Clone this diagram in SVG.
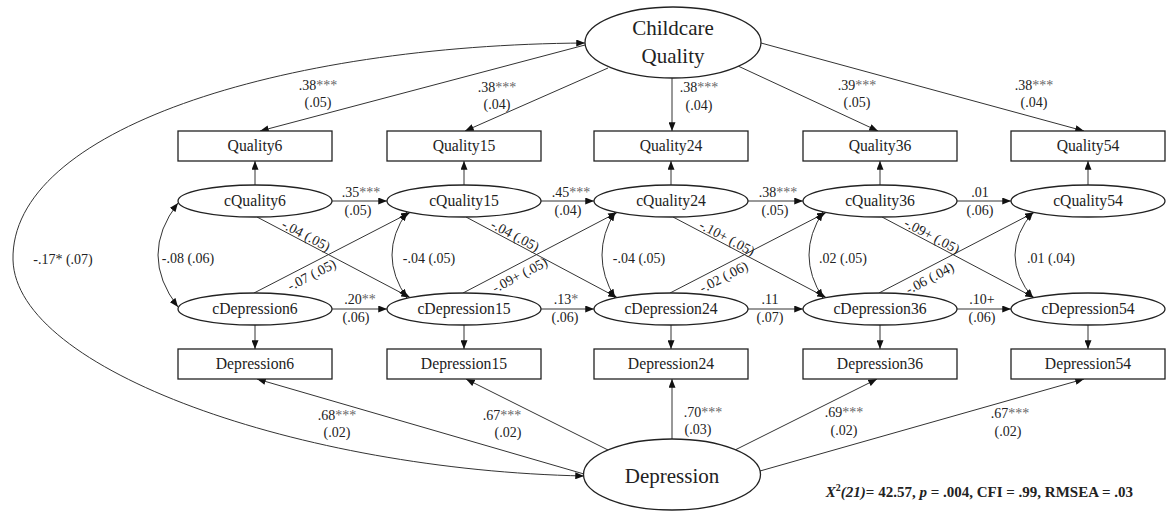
<svg xmlns="http://www.w3.org/2000/svg" width="1167" height="513" viewBox="0 0 1167 513">
<style>
text{font-family:"Liberation Serif",Tinos,"Times New Roman",Times,"DejaVu Serif",serif;fill:#222}
.node{font-size:15.7px;text-anchor:middle}
.big{font-size:21px;text-anchor:middle}
.lab{font-size:14px;text-anchor:middle}
.st{fill:#666}
.box{fill:#fff;stroke:#222;stroke-width:1.3}
.ell{fill:#fff;stroke:#222;stroke-width:1.3}
.c line,.c path{stroke:#333;stroke-width:1;fill:none}
.fit{font-size:15px;font-weight:bold;text-anchor:end}
</style>
<defs>
<marker id="ah" viewBox="0 0 10 8" markerWidth="9" markerHeight="7" refX="10" refY="4" orient="auto-start-reverse" markerUnits="userSpaceOnUse">
<path d="M0,0 L10,4 L0,8 z" fill="#111"/>
</marker>
</defs>

<g id="connectors" class="c">
<path d="M585,43 C280,45 10,130 13,260 C16,370 300,470 584,476" marker-start="url(#ah)" marker-end="url(#ah)"/>
<line x1="585" y1="45" x2="260" y2="131" marker-end="url(#ah)"/>
<line x1="608" y1="68" x2="465" y2="131" marker-end="url(#ah)"/>
<line x1="672" y1="78" x2="672" y2="131" marker-end="url(#ah)"/>
<line x1="738" y1="66" x2="878" y2="131" marker-end="url(#ah)"/>
<line x1="761" y1="43" x2="1084" y2="131" marker-end="url(#ah)"/>
<line x1="584" y1="474" x2="257" y2="379" marker-end="url(#ah)"/>
<line x1="608" y1="450" x2="466" y2="379" marker-end="url(#ah)"/>
<line x1="672" y1="439" x2="672" y2="379" marker-end="url(#ah)"/>
<line x1="735" y1="450" x2="877" y2="379" marker-end="url(#ah)"/>
<line x1="760" y1="471" x2="1084" y2="379" marker-end="url(#ah)"/>
<line x1="255" y1="185" x2="255" y2="161" marker-end="url(#ah)"/>
<line x1="464" y1="185" x2="464" y2="161" marker-end="url(#ah)"/>
<line x1="671" y1="185" x2="671" y2="161" marker-end="url(#ah)"/>
<line x1="880" y1="185" x2="880" y2="161" marker-end="url(#ah)"/>
<line x1="1088" y1="185" x2="1088" y2="161" marker-end="url(#ah)"/>
<line x1="255" y1="325" x2="255" y2="349" marker-end="url(#ah)"/>
<line x1="464" y1="325" x2="464" y2="349" marker-end="url(#ah)"/>
<line x1="671" y1="325" x2="671" y2="349" marker-end="url(#ah)"/>
<line x1="880" y1="325" x2="880" y2="349" marker-end="url(#ah)"/>
<line x1="1088" y1="325" x2="1088" y2="349" marker-end="url(#ah)"/>
<line x1="332" y1="201" x2="387" y2="201" marker-end="url(#ah)"/>
<line x1="541" y1="201" x2="594" y2="201" marker-end="url(#ah)"/>
<line x1="748" y1="201" x2="803" y2="201" marker-end="url(#ah)"/>
<line x1="957" y1="201" x2="1011" y2="201" marker-end="url(#ah)"/>
<line x1="332" y1="309" x2="387" y2="309" marker-end="url(#ah)"/>
<line x1="541" y1="309" x2="594" y2="309" marker-end="url(#ah)"/>
<line x1="748" y1="309" x2="803" y2="309" marker-end="url(#ah)"/>
<line x1="957" y1="309" x2="1011" y2="309" marker-end="url(#ah)"/>
<line x1="257" y1="217" x2="410" y2="297.5" marker-end="url(#ah)"/>
<line x1="466" y1="217" x2="617" y2="297.5" marker-end="url(#ah)"/>
<line x1="673" y1="217" x2="826" y2="297.5" marker-end="url(#ah)"/>
<line x1="882" y1="217" x2="1034" y2="297.5" marker-end="url(#ah)"/>
<line x1="254" y1="293" x2="410" y2="212.5" marker-end="url(#ah)"/>
<line x1="463" y1="293" x2="617" y2="212.5" marker-end="url(#ah)"/>
<line x1="670" y1="293" x2="826" y2="212.5" marker-end="url(#ah)"/>
<line x1="879" y1="293" x2="1034" y2="212.5" marker-end="url(#ah)"/>
<path d="M178,203 Q138,255 178,307" marker-start="url(#ah)" marker-end="url(#ah)"/>
<path d="M407,212 Q377,255 407,298" marker-start="url(#ah)" marker-end="url(#ah)"/>
<path d="M615,212 Q589,255 615,298" marker-start="url(#ah)" marker-end="url(#ah)"/>
<path d="M823,212 Q795,255 823,298" marker-start="url(#ah)" marker-end="url(#ah)"/>
<path d="M1033,212 Q997,255 1033,298" marker-start="url(#ah)" marker-end="url(#ah)"/>
</g>

<g id="labels">
<text class="lab" x="63" y="264">-.17* (.07)</text>
<text class="lab" x="318" y="90">.38<tspan class="st">***</tspan></text><text class="lab" x="318" y="107">(.05)</text>
<text class="lab" x="497" y="92">.38<tspan class="st">***</tspan></text><text class="lab" x="497" y="109">(.04)</text>
<text class="lab" x="699" y="92">.38<tspan class="st">***</tspan></text><text class="lab" x="699" y="110">(.04)</text>
<text class="lab" x="857" y="90">.39<tspan class="st">***</tspan></text><text class="lab" x="857" y="107">(.05)</text>
<text class="lab" x="1034" y="90">.38<tspan class="st">***</tspan></text><text class="lab" x="1034" y="107">(.04)</text>

<text class="lab" x="361" y="197">.35<tspan class="st">***</tspan></text><text class="lab" x="358" y="215">(.05)</text>
<text class="lab" x="571" y="197">.45<tspan class="st">***</tspan></text><text class="lab" x="568" y="215">(.04)</text>
<text class="lab" x="778" y="197">.38<tspan class="st">***</tspan></text><text class="lab" x="775" y="215">(.05)</text>
<text class="lab" x="980" y="197">.01</text><text class="lab" x="980" y="215">(.06)</text>

<text class="lab" x="360" y="304">.20<tspan class="st">**</tspan></text><text class="lab" x="356" y="322">(.06)</text>
<text class="lab" x="566" y="304">.13<tspan class="st">*</tspan></text><text class="lab" x="565" y="322">(.06)</text>
<text class="lab" x="770" y="304">.11</text><text class="lab" x="770" y="322">(.07)</text>
<text class="lab" x="982" y="304">.10+</text><text class="lab" x="982" y="322">(.06)</text>

<text class="lab" x="188" y="263">-.08 (.06)</text>
<text class="lab" x="429" y="263">-.04 (.05)</text>
<text class="lab" x="639" y="263">-.04 (.05)</text>
<text class="lab" x="843" y="263">.02 (.05)</text>
<text class="lab" x="1051" y="263">.01 (.04)</text>

<g transform="translate(303,241.2) rotate(27.75)"><text class="lab" y="-2">-.04 (.05)</text></g>
<g transform="translate(512,241.5) rotate(28)"><text class="lab" y="-2">-.04 (.05)</text></g>
<g transform="translate(724,243.8) rotate(27.75)"><text class="lab" y="-2">-.10+ (.05)</text></g>
<g transform="translate(929,241.9) rotate(27.9)"><text class="lab" y="-2">-.09+ (.05)</text></g>
<g transform="translate(307,265.6) rotate(-27.3)"><text class="lab" y="15">-.07 (.05)</text></g>
<g transform="translate(515,265.8) rotate(-27.6)"><text class="lab" y="15">-.09+ (.05)</text></g>
<g transform="translate(719,267.7) rotate(-27.3)"><text class="lab" y="15">-.02 (.06)</text></g>
<g transform="translate(925,269) rotate(-27.5)"><text class="lab" y="15">-.06 (.04)</text></g>

<text class="lab" x="337" y="420">.68<tspan class="st">***</tspan></text><text class="lab" x="337" y="437">(.02)</text>
<text class="lab" x="502" y="420">.67<tspan class="st">***</tspan></text><text class="lab" x="508" y="437">(.02)</text>
<text class="lab" x="703" y="417">.70<tspan class="st">***</tspan></text><text class="lab" x="698" y="434">(.03)</text>
<text class="lab" x="844" y="417">.69<tspan class="st">***</tspan></text><text class="lab" x="844" y="435">(.02)</text>
<text class="lab" x="1010" y="418">.67<tspan class="st">***</tspan></text><text class="lab" x="1008" y="436">(.02)</text>

<text class="fit" x="1133" y="497"><tspan font-style="italic">X</tspan><tspan font-size="10" dy="-6">2</tspan><tspan font-style="italic" dy="6">(21)</tspan>= 42.57, <tspan font-style="italic">p</tspan> = .004, CFI = .99, RMSEA = .03</text>
</g>

<g id="ChildcareQuality"><ellipse class="ell" cx="673" cy="42.5" rx="88" ry="35.5"/><text class="big" x="673" y="35">Childcare</text><text class="big" x="673" y="63">Quality</text></g>
<g id="Depression"><ellipse class="ell" cx="672" cy="474.5" rx="88.5" ry="35.5"/><text class="big" x="672" y="483">Depression</text></g>

<g id="Quality6"><rect class="box" x="178" y="131" width="154" height="30"/><text class="node" x="255" y="151">Quality6</text></g>
<g id="Quality15"><rect class="box" x="387" y="131" width="154" height="30"/><text class="node" x="464" y="151">Quality15</text></g>
<g id="Quality24"><rect class="box" x="594" y="131" width="154" height="30"/><text class="node" x="671" y="151">Quality24</text></g>
<g id="Quality36"><rect class="box" x="803" y="131" width="154" height="30"/><text class="node" x="880" y="151">Quality36</text></g>
<g id="Quality54"><rect class="box" x="1011" y="131" width="154" height="30"/><text class="node" x="1088" y="151">Quality54</text></g>

<g id="cQuality6"><ellipse class="ell" cx="255" cy="201" rx="77" ry="16"/><text class="node" x="255" y="206">cQuality6</text></g>
<g id="cQuality15"><ellipse class="ell" cx="464" cy="201" rx="77" ry="16"/><text class="node" x="464" y="206">cQuality15</text></g>
<g id="cQuality24"><ellipse class="ell" cx="671" cy="201" rx="77" ry="16"/><text class="node" x="671" y="206">cQuality24</text></g>
<g id="cQuality36"><ellipse class="ell" cx="880" cy="201" rx="77" ry="16"/><text class="node" x="880" y="206">cQuality36</text></g>
<g id="cQuality54"><ellipse class="ell" cx="1088" cy="201" rx="77" ry="16"/><text class="node" x="1088" y="206">cQuality54</text></g>

<g id="cDepression6"><ellipse class="ell" cx="255" cy="309" rx="77" ry="16"/><text class="node" x="255" y="314">cDepression6</text></g>
<g id="cDepression15"><ellipse class="ell" cx="464" cy="309" rx="77" ry="16"/><text class="node" x="464" y="314">cDepression15</text></g>
<g id="cDepression24"><ellipse class="ell" cx="671" cy="309" rx="77" ry="16"/><text class="node" x="671" y="314">cDepression24</text></g>
<g id="cDepression36"><ellipse class="ell" cx="880" cy="309" rx="77" ry="16"/><text class="node" x="880" y="314">cDepression36</text></g>
<g id="cDepression54"><ellipse class="ell" cx="1088" cy="309" rx="77" ry="16"/><text class="node" x="1088" y="314">cDepression54</text></g>

<g id="Depression6"><rect class="box" x="178" y="349" width="154" height="30"/><text class="node" x="255" y="369">Depression6</text></g>
<g id="Depression15"><rect class="box" x="387" y="349" width="154" height="30"/><text class="node" x="464" y="369">Depression15</text></g>
<g id="Depression24"><rect class="box" x="594" y="349" width="154" height="30"/><text class="node" x="671" y="369">Depression24</text></g>
<g id="Depression36"><rect class="box" x="803" y="349" width="154" height="30"/><text class="node" x="880" y="369">Depression36</text></g>
<g id="Depression54"><rect class="box" x="1011" y="349" width="154" height="30"/><text class="node" x="1088" y="369">Depression54</text></g>
</svg>
